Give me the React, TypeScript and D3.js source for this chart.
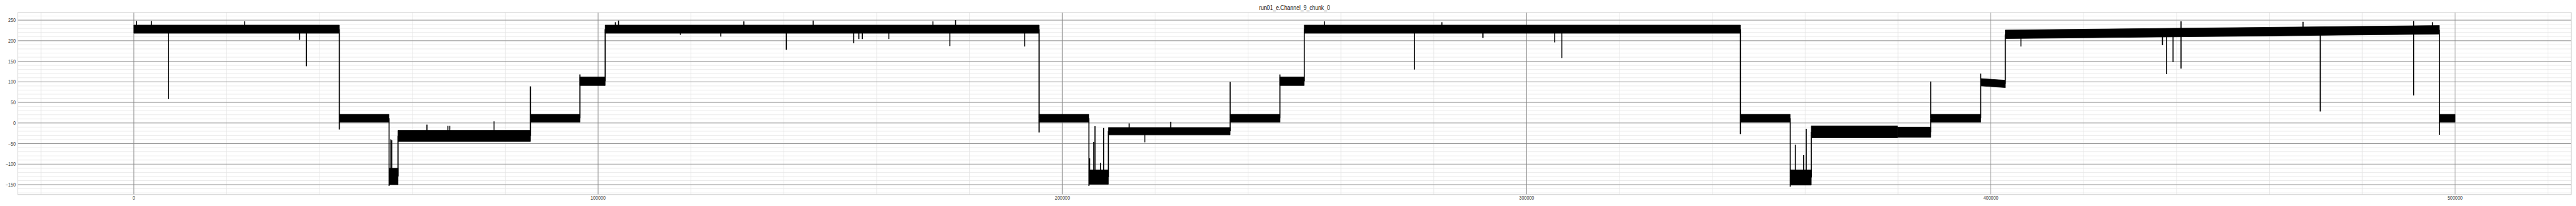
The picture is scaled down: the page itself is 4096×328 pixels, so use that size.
import * as d3 from 'd3';

// chart text
const title = 'run01_e.Channel_9_chunk_0';
const xTicks = [0, 100000, 200000, 300000, 400000, 500000];
const yTicks = [-150, -100, -50, 0, 50, 100, 150, 200, 250];

// signal: flat noisy levels (start, end, band low / high at start and end)
const segStart = [0, 44256, 54970, 56900, 85420, 96085, 101520, 194990, 205720, 209910, 236140,
  246870, 252100, 346050, 356780, 361320, 379900, 387050, 397810, 403110, 496610];
const segEnd = [44256, 54970, 56900, 85420, 96085, 101520, 194990, 205720, 209910, 236140, 246870,
  252100, 346050, 356780, 361320, 379900, 387050, 397810, 403110, 496610, 500000];
const lowStart = [218, 2, -150, -45, 2, 91, 218, 2, -149, -29, 2, 91, 218, 2, -151, -36, -35, 2, 90, 205, 2];
const lowEnd = [218, 2, -150, -45, 2, 91, 218, 2, -149, -29, 2, 91, 218, 2, -151, -36, -35, 2, 86, 216, 2];
const highStart = [238, 21, -110, -18, 21, 112, 238, 21, -114, -11, 21, 112, 238, 21, -114, -7, -10, 21, 108, 226, 21];
const highEnd = [238, 21, -110, -18, 21, 112, 238, 21, -114, -11, 21, 112, 238, 21, -114, -7, -10, 21, 104, 237, 21];

// isolated spikes (sample index, value reached)
const spikeX = [590, 3770, 23880, 7440, 35700, 37170, 44256, 54970, 55350, 55550, 63130, 67650, 68060, 77580,
  85420, 96085, 103720, 104400, 131390, 146320, 172120, 177000, 117700, 126430, 140540, 155050, 156160,
  156910, 162630, 175770, 191890, 194990, 205720, 205860, 206750, 207030, 208200, 208890, 214390, 223340,
  217770, 236140, 246870, 256430, 281750, 275830, 290590, 306060, 307590, 346050, 356780, 357880, 359670,
  360230, 387050, 397810, 406480, 436960, 437860, 439240, 440960, 440960, 467240, 470950, 491060, 491060,
  495110, 496610];
const spikeY = [248, 248, 247, 58, 202, 138, -16, -153, -40, -42, -4, -7, -7, 4,
  89, 118, 245, 249, 247, 249, 247, 250, 214, 210, 178, 194, 204,
  204, 204, 187, 186, -23, -153, -86, -46, -8, -97, -12, -1, 3,
  -47, 100, 118, 247, 245, 130, 207, 196, 158, -27, -155, -53, -78,
  -14, 101, 120, 186, 189, 119, 148, 132, 247, 246, 28, 67, 248,
  245, -29];

const W = 5400;
const H = 432;
const left = 37.3;
const right = 5389.9;
const top = 26.3;
const bottom = 408;

const x = d3.scaleLinear().domain([-25000, 525000]).range([left, right]);
const y = d3.scaleLinear().domain([-174, 268.5]).range([bottom, top]);
const fmt = d3.format('d');

const segIndex = (v: number) => {
  for (let i = 0; i < segStart.length; i++) if (v >= segStart[i] && v < segEnd[i]) return i;
  return segStart.length - 1;
};
const midAt = (v: number) => {
  const i = segIndex(v);
  const t = (v - segStart[i]) / (segEnd[i] - segStart[i]);
  const lo = lowStart[i] + (lowEnd[i] - lowStart[i]) * t;
  const hi = highStart[i] + (highEnd[i] - highStart[i]) * t;
  return (lo + hi) / 2;
};

const area = d3.area<[number, number, number]>()
  .x((d) => x(d[0]))
  .y0((d) => y(d[1]))
  .y1((d) => y(d[2]));

const App = () => {
  const xMinor = d3.range(-20000, 525001, 20000);
  const yMinor = d3.range(-170, 268, 10);
  const font = '"Liberation Sans", Arial, sans-serif';

  return (
    <svg width={4096} height={328} viewBox={`0 0 ${W} ${H}`} preserveAspectRatio="none"
      style={{ position: 'absolute', left: 0, top: 0, background: '#fff' }}>
      {/* minor grid */}
      {xMinor.map((v) => (
        <line key={'xm' + v} x1={x(v)} x2={x(v)} y1={top} y2={bottom} stroke="#e3e3e3" strokeWidth={1} />
      ))}
      {yMinor.map((v) => (
        <line key={'ym' + v} x1={left} x2={right} y1={y(v)} y2={y(v)} stroke="#e3e3e3" strokeWidth={1} />
      ))}
      {/* major grid */}
      {xTicks.map((v) => (
        <line key={'xM' + v} x1={x(v)} x2={x(v)} y1={top} y2={bottom} stroke="#858585" strokeWidth={1.1} />
      ))}
      {yTicks.map((v) => (
        <line key={'yM' + v} x1={left} x2={right} y1={y(v)} y2={y(v)} stroke="#858585" strokeWidth={1.1} />
      ))}
      <rect x={left} y={top} width={right - left} height={bottom - top} fill="none" stroke="#cccccc" strokeWidth={1.3} />

      {/* signal */}
      <g>
        {segStart.map((s, i) => (
          <path key={'seg' + i}
            d={area([[s, lowStart[i], highStart[i]], [segEnd[i], lowEnd[i], highEnd[i]]]) || ''}
            fill="#000" stroke="#000" strokeWidth={1} strokeLinejoin="round" />
        ))}
        {segStart.slice(1).map((s, i) => (
          <line key={'tr' + i} x1={x(s)} x2={x(s)} y1={y(midAt(s - 1))} y2={y(midAt(s))}
            stroke="#000" strokeWidth={2.2} />
        ))}
        {spikeX.map((v, i) => (
          <line key={'sp' + i} x1={x(v)} x2={x(v)} y1={y(midAt(v))} y2={y(spikeY[i])}
            stroke="#000" strokeWidth={2.2} />
        ))}
      </g>

      {/* tick labels */}
      {yTicks.map((v) => (
        <g key={'yl' + v} transform={`translate(${left - 4.5},${y(v)}) scale(0.82,1)`}>
          <text textAnchor="end" dy="0.36em" fontSize={11.5} fontFamily={font} fill="#444">{fmt(v)}</text>
        </g>
      ))}
      {xTicks.map((v) => (
        <g key={'xl' + v} transform={`translate(${x(v)},${bottom + 11.3}) scale(0.82,1)`}>
          <text textAnchor="middle" fontSize={11.5} fontFamily={font} fill="#444">{fmt(v)}</text>
        </g>
      ))}
      <g transform={`translate(${(left + right) / 2},21) scale(0.84,1)`}>
        <text textAnchor="middle" fontSize={13.5} fontFamily={font} fill="#222">{title}</text>
      </g>
    </svg>
  );
};

export default App;
